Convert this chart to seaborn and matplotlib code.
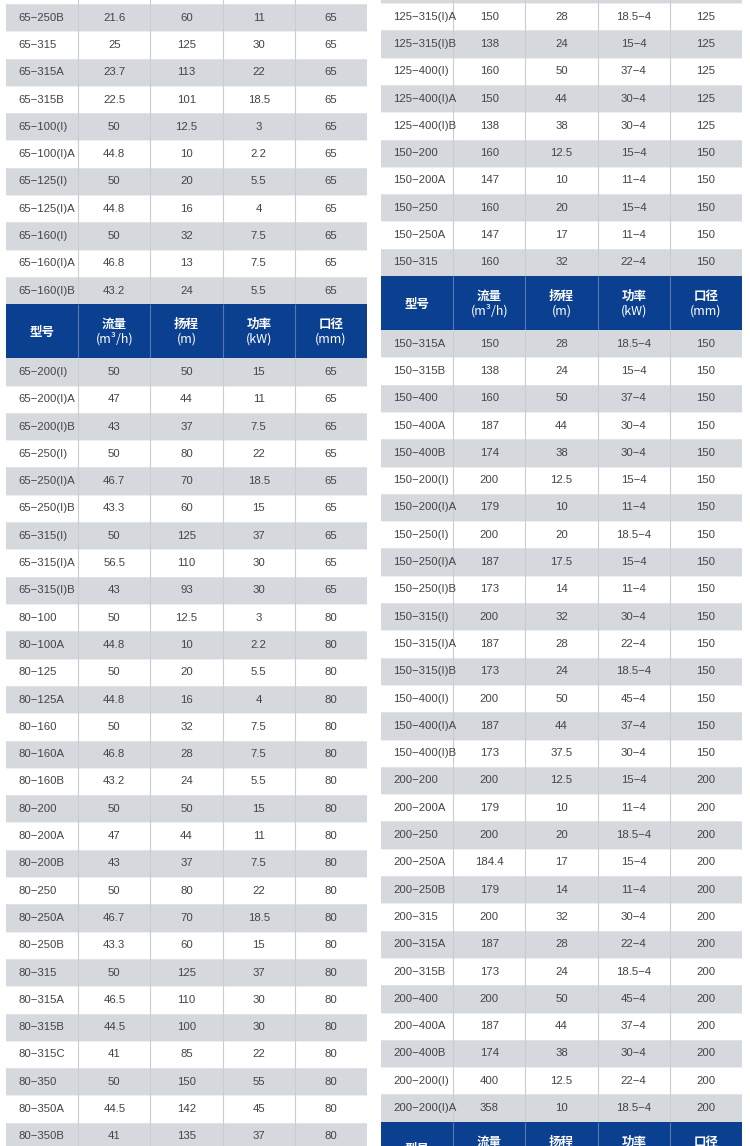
import numpy as np
import pandas as pd
import matplotlib
matplotlib.use('Agg')
import matplotlib.pyplot as plt
from matplotlib.colors import ListedColormap
import seaborn as sns

sns.set_theme(style='white')
plt.rcParams['font.family'] = ['Liberation Sans', 'DejaVu Sans']

# column headers
head_top = ['', '流量', '扬程', '功率', '口径']
head_bot = ['', '(m³/h)', '(m)', '(kW)', '(mm)']
head_single = '型号'

# left table, upper part
lt_model = ['65-250B', '65-315', '65-315A', '65-315B', '65-100(I)', '65-100(I)A',
            '65-125(I)', '65-125(I)A', '65-160(I)', '65-160(I)A', '65-160(I)B']
lt_flow = ['21.6', '25', '23.7', '22.5', '50', '44.8', '50', '44.8', '50', '46.8', '43.2']
lt_head = ['60', '125', '113', '101', '12.5', '10', '20', '16', '32', '13', '24']
lt_power = ['11', '30', '22', '18.5', '3', '2.2', '5.5', '4', '7.5', '7.5', '5.5']
lt_dia = ['65'] * 11

# left table, lower part
lb_model = ['65-200(I)', '65-200(I)A', '65-200(I)B', '65-250(I)', '65-250(I)A', '65-250(I)B',
            '65-315(I)', '65-315(I)A', '65-315(I)B', '80-100', '80-100A', '80-125', '80-125A',
            '80-160', '80-160A', '80-160B', '80-200', '80-200A', '80-200B', '80-250',
            '80-250A', '80-250B', '80-315', '80-315A', '80-315B', '80-315C', '80-350',
            '80-350A', '80-350B']
lb_flow = ['50', '47', '43', '50', '46.7', '43.3', '50', '56.5', '43', '50', '44.8', '50', '44.8',
           '50', '46.8', '43.2', '50', '47', '43', '50', '46.7', '43.3', '50', '46.5', '44.5',
           '41', '50', '44.5', '41']
lb_head = ['50', '44', '37', '80', '70', '60', '125', '110', '93', '12.5', '10', '20', '16',
           '32', '28', '24', '50', '44', '37', '80', '70', '60', '125', '110', '100', '85',
           '150', '142', '135']
lb_power = ['15', '11', '7.5', '22', '18.5', '15', '37', '30', '30', '3', '2.2', '5.5', '4',
            '7.5', '7.5', '5.5', '15', '11', '7.5', '22', '18.5', '15', '37', '30', '30', '22',
            '55', '45', '37']
lb_dia = ['65'] * 9 + ['80'] * 20

# right table, upper part
rt_model = ['125-315(I)A', '125-315(I)B', '125-400(I)', '125-400(I)A', '125-400(I)B',
            '150-200', '150-200A', '150-250', '150-250A', '150-315']
rt_flow = ['150', '138', '160', '150', '138', '160', '147', '160', '147', '160']
rt_head = ['28', '24', '50', '44', '38', '12.5', '10', '20', '17', '32']
rt_power = ['18.5-4', '15-4', '37-4', '30-4', '30-4', '15-4', '11-4', '15-4', '11-4', '22-4']
rt_dia = ['125'] * 5 + ['150'] * 5

# right table, lower part
rb_model = ['150-315A', '150-315B', '150-400', '150-400A', '150-400B', '150-200(I)',
            '150-200(I)A', '150-250(I)', '150-250(I)A', '150-250(I)B', '150-315(I)',
            '150-315(I)A', '150-315(I)B', '150-400(I)', '150-400(I)A', '150-400(I)B',
            '200-200', '200-200A', '200-250', '200-250A', '200-250B', '200-315', '200-315A',
            '200-315B', '200-400', '200-400A', '200-400B', '200-200(I)', '200-200(I)A']
rb_flow = ['150', '138', '160', '187', '174', '200', '179', '200', '187', '173', '200', '187',
           '173', '200', '187', '173', '200', '179', '200', '184.4', '179', '200', '187',
           '173', '200', '187', '174', '400', '358']
rb_head = ['28', '24', '50', '44', '38', '12.5', '10', '20', '17.5', '14', '32', '28', '24',
           '50', '44', '37.5', '12.5', '10', '20', '17', '14', '32', '28', '24', '50', '44',
           '38', '12.5', '10']
rb_power = ['18.5-4', '15-4', '37-4', '30-4', '30-4', '15-4', '11-4', '18.5-4', '15-4', '11-4',
            '30-4', '22-4', '18.5-4', '45-4', '37-4', '30-4', '15-4', '11-4', '18.5-4', '15-4',
            '11-4', '30-4', '22-4', '18.5-4', '45-4', '37-4', '30-4', '22-4', '18.5-4']
rb_dia = ['150'] * 16 + ['200'] * 13

W, H = 750, 1146
RH = 27.3      # body row height in px
HH = 54        # header row height in px
TW = 361       # table width in px
GRAY = '#d5d9dd'
BLUE = '#0b3f8f'
TXT = '#444444'

fig = plt.figure(figsize=(W / 100, H / 100), dpi=100)
fig.patch.set_facecolor('white')


def body_block(x0, top, df, start, pad_top=0):
    n = len(df) + pad_top
    ax = fig.add_axes([x0 / W, 1 - (top + n * RH) / H, TW / W, n * RH / H])
    parity = (np.arange(n) + start) % 2
    mat = np.tile(parity[:, None], (1, 5))
    sns.heatmap(mat, ax=ax, cmap=ListedColormap(['white', GRAY]), vmin=0, vmax=1,
                cbar=False, xticklabels=False, yticklabels=False, linewidths=0)
    ax.hlines(np.arange(1, n), 0, 5, color='#e6e8ea', lw=0.5)
    ax.vlines(np.arange(1, 5), 0, n, color='#c9ccd0', lw=0.8)
    for i, row in enumerate(df.itertuples(index=False)):
        y = i + pad_top + 0.5
        ax.text(0.17, y, row[0].replace('-', '−'), ha='left', va='center',
                fontsize=8.2, color=TXT)
        for j in range(1, 5):
            ax.text(j + 0.5, y, row[j].replace('-', '−'), ha='center', va='center',
                    fontsize=8.2, color=TXT)
    ax.set_axis_off()


def header_block(x0, top):
    ax = fig.add_axes([x0 / W, 1 - (top + HH) / H, TW / W, HH / H])
    sns.heatmap(np.zeros((1, 5)), ax=ax, cmap=ListedColormap([BLUE]), vmin=0, vmax=1,
                cbar=False, xticklabels=False, yticklabels=False, linewidths=0)
    ax.vlines(np.arange(1, 5), 0, 1, color='#5877b0', lw=0.8)
    fam = ['Noto Sans CJK SC', 'DejaVu Sans']
    ax.text(0.5, 0.52, head_single, ha='center', va='center', color='white',
            fontsize=9, fontweight='bold', family=fam)
    for j in range(1, 5):
        ax.text(j + 0.5, 0.38, head_top[j], ha='center', va='center', color='white',
                fontsize=9, fontweight='bold', family=fam)
        ax.text(j + 0.5, 0.64, head_bot[j], ha='center', va='center', color='white',
                fontsize=9, family=fam)
    ax.set_axis_off()


def frame(model, flow, head, power, dia):
    return pd.DataFrame({'model': model, 'flow': flow, 'head': head,
                         'power': power, 'dia': dia})


# left table
LX = 6
body_block(LX, 4 - RH, frame(lt_model, lt_flow, lt_head, lt_power, lt_dia), 0, pad_top=1)
header_block(LX, 4 + 11 * RH)
body_block(LX, 4 + 11 * RH + HH, frame(lb_model, lb_flow, lb_head, lb_power, lb_dia), 1)

# right table
RX = 381
body_block(RX, 3 - RH, frame(rt_model, rt_flow, rt_head, rt_power, rt_dia), 1, pad_top=1)
header_block(RX, 3 + 10 * RH)
body_block(RX, 3 + 10 * RH + HH, frame(rb_model, rb_flow, rb_head, rb_power, rb_dia), 1)
header_block(RX, 3 + 10 * RH + HH + 29 * RH)

fig.savefig('out.png', dpi=100, facecolor='white')
